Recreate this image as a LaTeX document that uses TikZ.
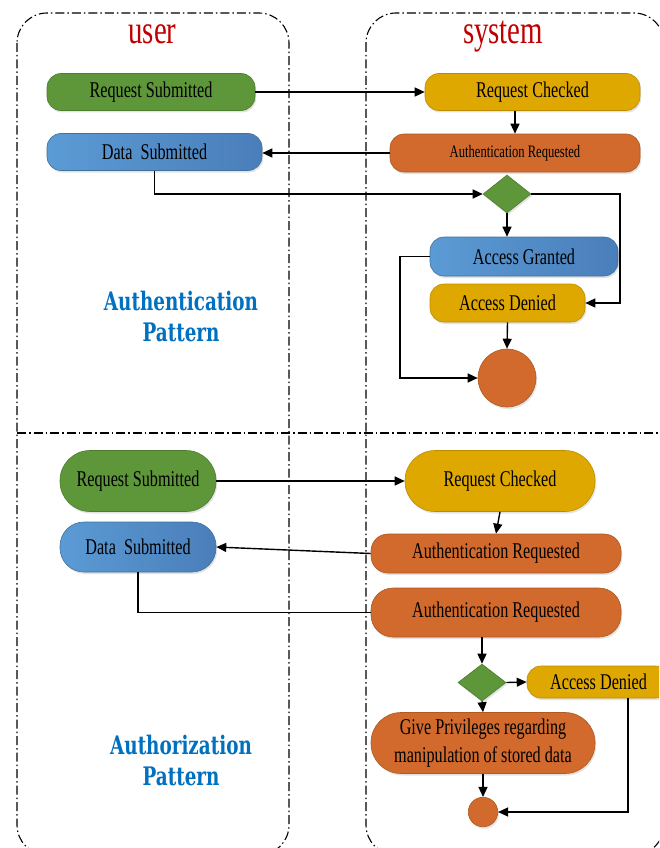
\documentclass[tikz,border=0pt]{standalone}
\usepackage{fontspec}
\setmainfont{Liberation Serif}
\newfontfamily\nfont[FakeStretch=0.72]{Liberation Serif}
\newfontfamily\patfont[FakeStretch=0.72]{DejaVu Serif}
\usetikzlibrary{shapes.geometric,arrows.meta,shadows}
\definecolor{gfill}{HTML}{5E963A}
\definecolor{gdraw}{HTML}{4E7D30}
\definecolor{bleft}{HTML}{5B9BD5}
\definecolor{bright}{HTML}{4A7EBA}
\definecolor{bdraw}{HTML}{41719C}
\definecolor{yfill}{HTML}{DFA800}
\definecolor{ydraw}{HTML}{BC8C00}
\definecolor{ofill}{HTML}{D16A2C}
\definecolor{odraw}{HTML}{AE5A21}
\definecolor{titlered}{HTML}{C00000}
\definecolor{patblue}{HTML}{0070C0}
\tikzset{
  lane/.style={line width=1.1pt, dash pattern=on 9pt off 3pt on 1.5pt off 3pt},
  act/.style={rectangle, inner sep=0pt, line width=0.6pt,
    font=\nfont\fontsize{22.5}{26}\selectfont, text=black,
    drop shadow={opacity=0.22, shadow xshift=1.2pt, shadow yshift=-2pt}},
  greenact/.style={act, fill=gfill, draw=gdraw},
  blueact/.style={act, left color=bleft, right color=bright, draw=bdraw},
  yellowact/.style={act, fill=yfill, draw=ydraw},
  orangeact/.style={act, fill=ofill, draw=odraw},
  decis/.style={diamond, inner sep=0pt, fill=gfill, draw=gdraw, line width=0.6pt,
    drop shadow={opacity=0.22, shadow xshift=1.2pt, shadow yshift=-2pt}},
  endnode/.style={circle, inner sep=0pt, fill=ofill, draw=odraw, line width=0.6pt,
    drop shadow={opacity=0.22, shadow xshift=1.2pt, shadow yshift=-2pt}},
  arr/.style={line width=1.4pt, -{Triangle[length=10pt,width=9pt]}},
  plain/.style={line width=1.4pt},
  lanetitle/.style={font=\nfont\fontsize{40}{44}\selectfont, text=titlered, anchor=base, inner sep=0pt},
  pattext/.style={font=\patfont\bfseries\fontsize{25.5}{31}\selectfont, text=patblue, align=center, inner sep=0pt}
}
\begin{document}
\begin{tikzpicture}[x=1pt,y=-1pt]
\useasboundingbox (0,0) rectangle (659,848);
\clip (0,0) rectangle (659,848);
\fill[white] (0,0) rectangle (659,848);

% lanes
\draw[lane, rounded corners=30pt] (17,13) rectangle (289,855);
\draw[lane, rounded corners=30pt] (366,13) rectangle (664,855);
\draw[lane] (17,433) -- (664,433);

\node[lanetitle] (user) at (152.5,44) {user};
\node[lanetitle] (system) at (503,44) {system};

% ---------- Authentication pattern ----------
\node[greenact, rounded corners=14pt, minimum width=208pt, minimum height=37pt] (rs1) at (151,92) {Request Submitted};
\node[blueact, rounded corners=14pt, minimum width=215pt, minimum height=37pt] (ds1) at (154.5,152) {Data\ \ Submitted};
\node[yellowact, rounded corners=14pt, minimum width=215pt, minimum height=37pt] (rc1) at (532.5,92) {Request Checked};
\node[orangeact, rounded corners=14pt, minimum width=250pt, minimum height=38pt, font=\nfont\fontsize{17.5}{20}\selectfont] (ar1) at (515,153) {Authentication Requested};
\node[decis, minimum width=48pt, minimum height=38pt] (d1) at (507,194) {};
\node[blueact, rounded corners=14pt, minimum width=188pt, minimum height=39pt] (ag) at (524,256.5) {Access Granted};
\node[yellowact, rounded corners=14pt, minimum width=155pt, minimum height=38pt] (ad1) at (507.5,303) {Access Denied};
\node[endnode, minimum size=58pt] (end1) at (507,378) {};

\node[pattext] (pat1) at (181,316) {Authentication\\Pattern};

\coordinate (k1) at (620,194);
\coordinate (k2) at (400,378);

\draw[arr] (rs1.east) -- (rc1.west);
\draw[arr] (ar1.north |- rc1.south) -- (ar1.north);
\draw[arr] (ar1.west) -- (ar1.west -| ds1.east);
\draw[arr] (ds1.south) |- (d1.west);
\draw[arr] (d1.east) -| (k1) |- (ad1.east);
\draw[arr] (d1.south) -- (d1.south |- ag.north);
\draw[arr] (ag.west) -| (k2) -- (end1.west);
\draw[arr] (ad1.south) -- (end1.north);

% ---------- Authorization pattern ----------
\node[greenact, rounded corners=30pt, minimum width=156pt, minimum height=61pt] (rs2) at (138,481) {Request Submitted};
\node[blueact, rounded corners=24pt, minimum width=156pt, minimum height=50pt] (ds2) at (138,547) {Data\ \ Submitted};
\node[yellowact, rounded corners=30pt, minimum width=190pt, minimum height=61pt] (rc2) at (500,481) {Request Checked};
\node[orangeact, rounded corners=17pt, minimum width=250pt, minimum height=39pt] (ar2) at (496,553.5) {Authentication Requested};
\node[orangeact, rounded corners=22pt, minimum width=250pt, minimum height=49pt] (ar3) at (496,612.5) {Authentication Requested};
\node[decis, minimum width=48pt, minimum height=37pt] (d2) at (482,682.5) {};
\node[yellowact, rounded corners=14pt, minimum width=143pt, minimum height=32pt] (ad2) at (598.5,682) {Access Denied};
\node[orangeact, rounded corners=30pt, minimum width=224pt, minimum height=61pt, align=center, font=\nfont\fontsize{22.5}{27.5}\selectfont] (gp) at (483,743) {Give Privileges regarding\\manipulation of stored data};
\node[endnode, minimum size=29.5pt] (end2) at (483,812) {};

\node[pattext] (pat2) at (181,760) {Authorization\\Pattern};

\coordinate (k3) at (628,812);

\draw[arr] (rs2.east) -- (rc2.west);
\draw[arr] (rc2.south) -- (ar2.north);
\draw[arr] (ar2.west) -- (ds2.east);
\draw[plain] (ds2.south) |- (ar3.west);
\draw[arr] (d2.north |- ar3.south) -- (d2.north);
\draw[arr] (d2.east) -- (ad2.west);
\draw[arr] (d2.south) -- (gp.north);
\draw[arr] (gp.south) -- (end2.north);
\draw[arr] (k3 |- ad2.south) -- (k3) -- (end2.east);
\end{tikzpicture}
\end{document}
